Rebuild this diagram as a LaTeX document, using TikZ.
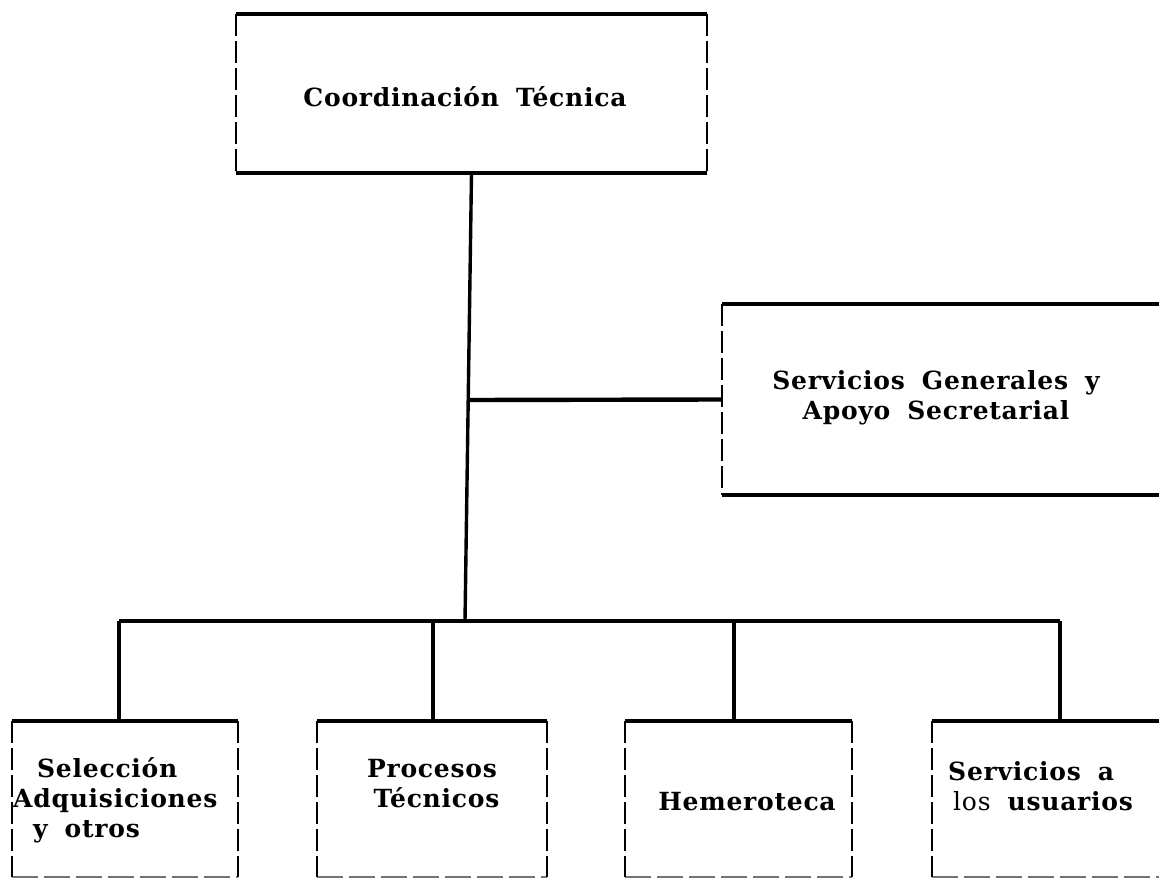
\documentclass[tikz,border=0pt]{standalone}
\usepackage{fontspec}
\setmainfont{DejaVu Serif}[LetterSpace=3, WordSpace=1.8]
\begin{document}
\begin{tikzpicture}[x=1pt,y=-1pt,
  boxshape/.style={rectangle, draw=none, inner sep=0pt, outer sep=0pt},
  rule/.style={line width=4.4pt},
  side/.style={line width=1.2pt, dash pattern=on 22pt off 5pt},
  faint/.style={line width=1.5pt, black!55, dash pattern=on 26pt off 6pt},
  conn/.style={line width=3.4pt},
  lbl/.style={font=\bfseries\fontsize{25}{30}\selectfont, align=center, inner sep=0pt}]
\fill[white] (0,0) rectangle (1159,880);
\useasboundingbox (0,0) rectangle (1159,880);

% boxes
\node[boxshape, minimum width=471pt, minimum height=159pt] (ct) at (471.5,93.5) {};
\node[boxshape, minimum width=453pt, minimum height=191pt] (sg) at (948.5,399.5) {};
\node[boxshape, minimum width=226pt, minimum height=156pt] (b1) at (125,799) {};
\node[boxshape, minimum width=230pt, minimum height=156pt] (b2) at (432,799) {};
\node[boxshape, minimum width=227pt, minimum height=156pt] (b3) at (738.5,799) {};
\node[boxshape, minimum width=238pt, minimum height=156pt] (b4) at (1051,799) {};

% top box
\draw[rule] (ct.north west) -- (ct.north east);
\draw[rule] (ct.south west) -- (ct.south east);
\draw[side] (ct.north west) -- (ct.south west);
\draw[side] (ct.north east) -- (ct.south east);
% servicios generales box
\draw[rule] (sg.north west) -- (sg.north east);
\draw[rule] (sg.south west) -- (sg.south east);
\draw[side] (sg.north west) -- (sg.south west);
% bottom boxes
\foreach \b in {b1,b2,b3,b4}{
  \draw[rule] (\b.north west) -- (\b.north east);
  \draw[faint] (\b.south west) -- (\b.south east);
  \draw[side] (\b.north west) -- (\b.south west);
}
\draw[side] (b1.north east) -- (b1.south east);
\draw[side] (b2.north east) -- (b2.south east);
\draw[side] (b3.north east) -- (b3.south east);

% labels
\node[lbl] (t0) at (465,97) {Coordinación Técnica};
\node[lbl] (tsg) at (936,397.5) {Servicios Generales y\\Apoyo Secretarial};
\node[lbl, align=left, anchor=west] (t1) at (13,800)
  {\hspace*{24pt}Selección\\Adquisiciones\\\hspace*{20pt}y otros};
\node[lbl] (t2) at (432,784) {Procesos\\\hspace*{9pt}Técnicos};
\node[lbl] (t3) at (747,802) {Hemeroteca};
\node[lbl, align=left, anchor=west] (t4) at (948,786)
  {Servicios a\\\hspace*{5pt}{\mdseries los} usuarios};

% connectors
\coordinate (j) at (465,621);
\coordinate (tk) at (468,400);
\coordinate (d1) at (119,621);
\coordinate (d2) at (433,621);
\coordinate (d3) at (734,621);
\coordinate (d4) at (1060,621);
\draw[conn] (ct.south) -- (j);
\draw[rule] (tk) -- (sg.west);
\draw[rule] (d1) -- (d4);
\draw[conn] (d1) -- (d1 |- b1.north);
\draw[conn] (d2) -- (d2 |- b2.north);
\draw[conn] (d3) -- (d3 |- b3.north);
\draw[conn] (d4) -- (d4 |- b4.north);
\end{tikzpicture}
\end{document}
